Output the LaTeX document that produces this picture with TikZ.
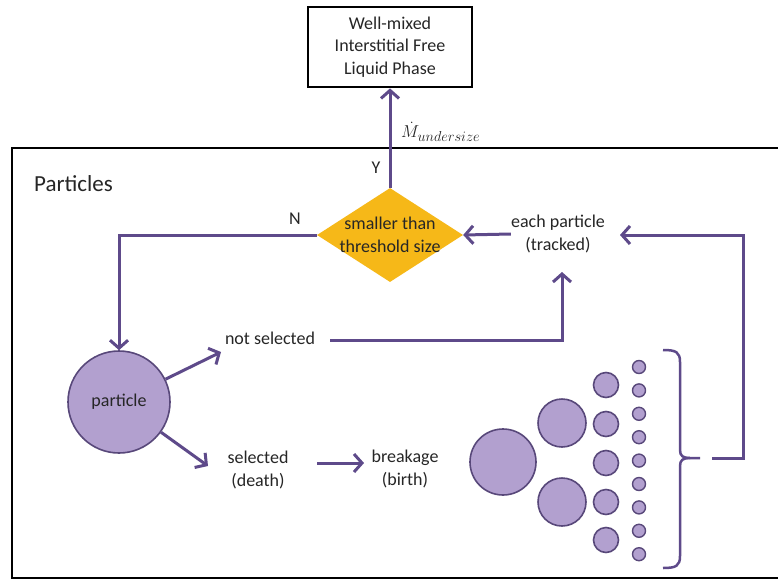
\documentclass[tikz,border=0pt]{standalone}
\usepackage{fontspec}
\setmainfont{Carlito}
\usetikzlibrary{arrows.meta,shapes.geometric}
\definecolor{linec}{RGB}{94,74,138}
\definecolor{edgec}{RGB}{88,72,122}
\definecolor{fillc}{RGB}{178,160,207}
\definecolor{diac}{RGB}{246,184,24}
\definecolor{textc}{RGB}{38,38,38}
\begin{document}
\begin{tikzpicture}[x=1pt,y=-1pt,
  txt/.style={font=\fontsize{18}{22.5}\selectfont, text=textc, align=center, inner sep=0pt},
  flow/.style={draw=linec, line width=3pt, -{Straight Barb[length=8pt,width=18pt,line width=3pt]}},
  plain/.style={draw=linec, line width=3pt},
  bub/.style={circle, draw=edgec, line width=1.6pt, fill=fillc, inner sep=0pt}]
\useasboundingbox (0,0) rectangle (778,581);
\fill[white] (0,0) rectangle (778,581);
% outer frame
\draw[line width=2.8pt] (800,148) -- (12,148) -- (12,578) -- (800,578);
\node[txt, font=\fontsize{23}{26}\selectfont, anchor=west] (ptitle) at (34,184) {Particles};
% top box
\node[draw, line width=2.8pt, minimum width=164pt, minimum height=80pt, txt] (liq) at (390,47) {Well-mixed\\Interstitial Free\\Liquid Phase};
% decision
\node[diamond, fill=diac, minimum width=146pt, minimum height=94pt, inner sep=0pt] (dec) at (390,235) {};
\node[txt] (dect) at (dec.center) {smaller than\\threshold size};
\draw[flow] (dec.north) -- (liq.south);
\node[font=\fontsize{19}{22}\selectfont, text=textc, anchor=west, inner sep=0pt] (mlab) at (401,132) {$\dot{M}_{undersize}$};
\node[txt] (ylab) at (376,168) {Y};
\node[txt] (nlab) at (295,219) {N};
% particle
\node[bub, minimum size=102pt] (part) at (119,402) {};
\node[txt] (partt) at (part.center) {particle};
\draw[flow] (dec.west) -| (part.north);
% each particle
\node[txt] (each) at (558,234) {each particle\\(tracked)};
\draw[flow] (each.west) -- (dec.east);
% not selected
\node[txt] (nsel) at (270,338) {not selected};
\coordinate (nsa) at (221,352);
\draw[flow] (part) -- (nsa);
\coordinate (nsb) at (330,340);
\coordinate (nsc) at (562,340);
\coordinate (nsd) at (562,272);
\draw[flow] (nsb) -- (nsc) -- (nsd);
% selected
\node[txt] (sel) at (258,470) {selected\\(death)};
\coordinate (sla) at (208,466);
\draw[flow] (part) -- (sla);
\node[txt] (brk) at (405,469) {breakage\\(birth)};
\coordinate (sba) at (317,463);
\coordinate (sbb) at (364,463);
\draw[flow] (sba) -- (sbb);
% fragments
\node[bub, minimum size=66pt] (b1) at (503,462) {};
\node[bub, minimum size=48pt] (m1) at (562,423) {};
\node[bub, minimum size=48pt] (m2) at (562,502) {};
\foreach \y [count=\i] in {385,424,463,502,540}
  \node[bub, minimum size=25pt] (s\i) at (606,\y) {};
\foreach \i in {0,...,8}
  \node[bub, minimum size=13pt, line width=1.4pt] (t\i) at (639,{367+23.4*\i}) {};
% brace
\draw[plain, line width=2.5pt] (663,350) .. controls (676,350) and (680,352) .. (680,362) -- (680,450) .. controls (680,456) and (683,458) .. (690,458) -- (700,458);
\draw[plain, line width=2.5pt] (690,458) .. controls (683,458) and (680,460) .. (680,466) -- (680,556) .. controls (680,566) and (676,568) .. (663,568);
% feedback
\coordinate (fba) at (712,458);
\coordinate (fbb) at (743,458);
\coordinate (fbc) at (743,235);
\coordinate (fbd) at (620,235);
\draw[flow] (fba) -- (fbb) -- (fbc) -- (fbd);
\end{tikzpicture}
\end{document}
